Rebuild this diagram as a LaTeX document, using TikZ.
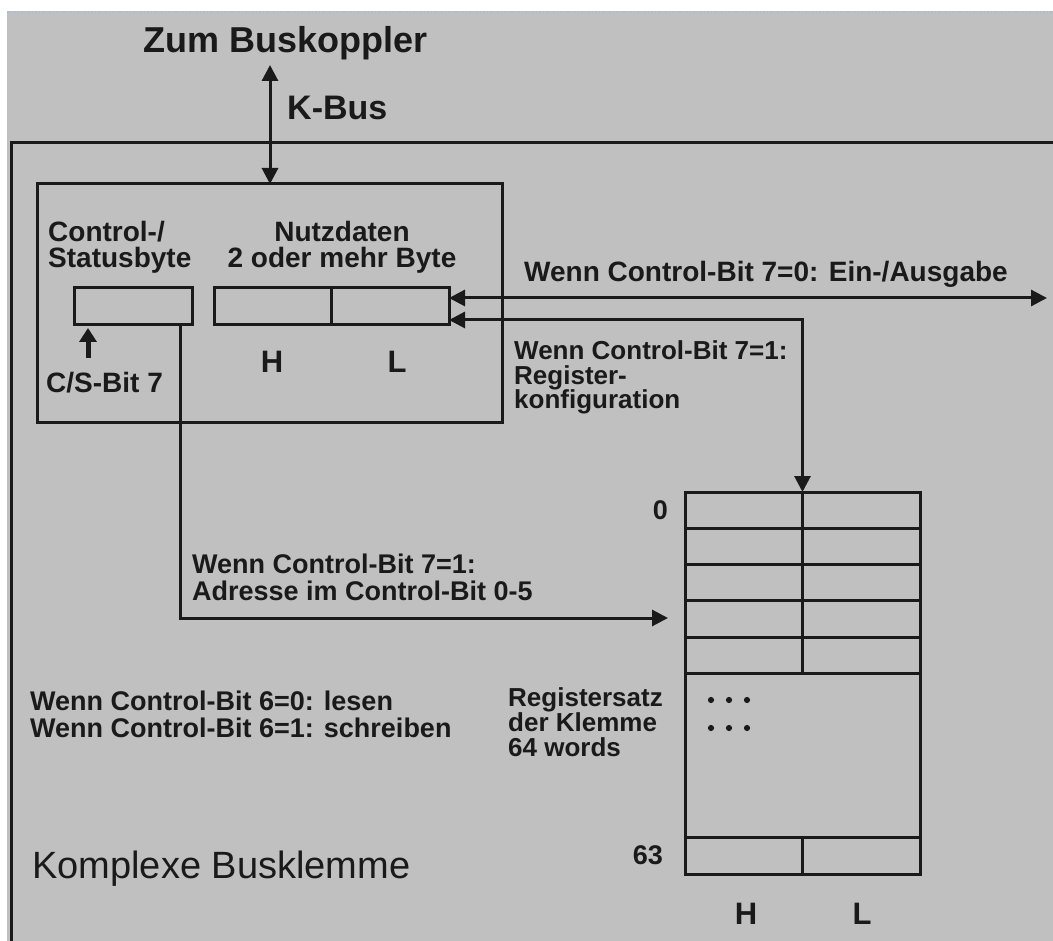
\documentclass[tikz,border=0pt]{standalone}
\usepackage{fontspec}
\setmainfont{Liberation Sans}
\usetikzlibrary{arrows.meta,calc}
\definecolor{bgc}{HTML}{C0C0C0}
\definecolor{ink}{HTML}{1A1A1A}
\definecolor{dotb}{HTML}{A9BDD6}
\tikzset{
  ln/.style={draw=ink, line width=3pt},
  box/.style={draw=ink, line width=3pt, inner sep=0pt, outer sep=0pt, rectangle},
  tipe/.style={-{Triangle[length=16pt,width=16pt]}},
  dtip/.style={{Triangle[length=16pt,width=16pt]}-{Triangle[length=16pt,width=16pt]}},
  lbl/.style={inner sep=0pt, text=ink, align=left, anchor=base west},
}
\begin{document}
\begin{tikzpicture}[x=1pt,y=-1pt]
\useasboundingbox (0,0) rectangle (1053,941);
\fill[bgc] (7,11) rectangle (1053,941);
\draw[dotb, dotted, line width=1.5pt] (7,12) -- (1053,12);
% outer frame
\draw[ln] (1053,143) -- (11,143) -- (11,941);

% boxes
\node[box, minimum width=465pt, minimum height=239pt] (inner) at (269.5,303.5) {};
\node[box, minimum width=118pt, minimum height=37pt] (csb) at (133,306.5) {};
\node[box, minimum width=235pt, minimum height=37pt] (data) at (331.5,306.5) {};
\draw[ln] (data.north) -- (data.south);
\node[box, minimum width=235pt, minimum height=382pt] (reg) at (802.5,683) {};
\foreach \yy in {528,564,600,637,673,837}
  \draw[ln] (685,\yy) -- (920,\yy);
\draw[ln] (reg.north) -- (802.5,673);
\draw[ln] (802.5,837) -- (reg.south);
\foreach \xx in {711,729,747}
  \foreach \yy in {700,728}
    \fill[ink] (\xx,\yy) circle (3.1pt);

% texts (multi-line nodes: base = baseline of last line)
\node[inner sep=0pt, text=ink, anchor=base, font=\bfseries\fontsize{36}{40}\selectfont] (zum) at (286,53) {Zum Buskoppler};
\node[lbl, font=\bfseries\fontsize{34}{40}\selectfont] (kbus) at (287,120) {K-Bus};
\node[lbl, font=\bfseries\fontsize{28}{26}\selectfont] (csl) at (48,268) {Control-/\\Statusbyte};
\node[lbl, align=center, anchor=base, font=\bfseries\fontsize{28}{26}\selectfont] (nutz) at (342,268) {Nutzdaten\\2 oder mehr Byte};
\node[lbl, font=\bfseries\fontsize{28}{26}\selectfont] (csbit) at (46,393) {C/S-Bit 7};
\node[lbl, anchor=base, font=\bfseries\fontsize{31}{34}\selectfont] (dh) at (272,373) {H};
\node[lbl, anchor=base, font=\bfseries\fontsize{31}{34}\selectfont] (dl) at (397,373) {L};
\node[lbl, font=\bfseries\fontsize{28}{26}\selectfont] (ein) at (524,282) {Wenn Control-Bit 7=0: Ein-/Ausgabe};
\node[lbl, font=\bfseries\fontsize{26}{24.5}\selectfont] (rkonf) at (514,409) {Wenn Control-Bit 7=1:\\Register-\\konfiguration};
\node[lbl, font=\bfseries\fontsize{27}{27}\selectfont] (adr) at (192,600) {Wenn Control-Bit 7=1:\\Adresse im Control-Bit 0-5};
\node[lbl, font=\bfseries\fontsize{27}{27}\selectfont] (rw) at (30,737) {Wenn Control-Bit 6=0: lesen\\Wenn Control-Bit 6=1: schreiben};
\node[lbl, font=\bfseries\fontsize{26}{25}\selectfont] (regs) at (508,756) {Registersatz\\der Klemme\\64 words};
\node[lbl, anchor=base east, font=\bfseries\fontsize{27}{30}\selectfont] (n0) at (668,519) {0};
\node[lbl, anchor=base east, font=\bfseries\fontsize{27}{30}\selectfont] (n63) at (663,864) {63};
\node[lbl, anchor=base, font=\bfseries\fontsize{31}{34}\selectfont] (rh) at (746,924) {H};
\node[lbl, anchor=base, font=\bfseries\fontsize{31}{34}\selectfont] (rl) at (862,924) {L};
\node[lbl, font=\fontsize{38}{40}\selectfont] (kb) at (32,878) {Komplexe Busklemme};

% connectors
\coordinate (kbtop) at (270,65);
\draw[ln, dtip] (kbtop) -- (kbtop |- inner.north);
\coordinate (csa) at (88,358);
\draw[draw=ink, line width=5pt, -{Triangle[length=14pt,width=17pt]}] (csa) -- ($(csa |- csb.south)+(0,3)$);
\coordinate (io) at (1047,298);
\draw[ln, dtip] ($(data.north east)+(0,10)$) -- (io);
\draw[ln, dtip] ($(data.south east)+(0,-5)$) -| (reg.north);
\coordinate (adrtip) at (668,618);
\draw[ln, tipe] ($(csb.south east)+(-12,0)$) |- (adrtip);
\end{tikzpicture}
\end{document}
